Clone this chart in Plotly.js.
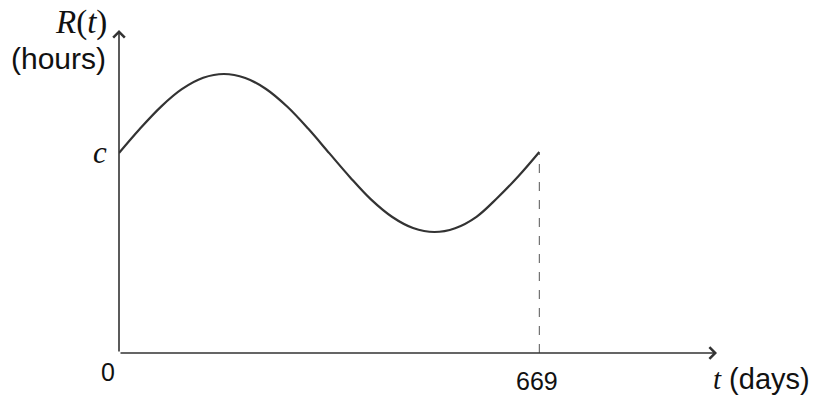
<!DOCTYPE html>
<html>
<head>
<meta charset="utf-8">
<script src="https://cdn.plot.ly/plotly-3.0.1.min.js"></script>
<style>html,body{margin:0;padding:0;background:#fff;}#chart{width:817px;height:395px;}</style>
</head>
<body>
<div id="chart"></div>
<script>
// Values (t in days, R in arbitrary hour units, c = 10)
const tDays = [0, 33, 67, 100, 134, 167, 201, 234, 268, 301, 335, 368, 401, 435, 468, 502, 535, 569, 602, 636, 669];
const rHours = [10, 11.2, 12.32, 13.19, 13.76, 13.95, 13.75, 13.2, 12.31, 11.22, 9.98, 8.78, 7.68, 6.8, 6.25, 6.05, 6.24, 6.81, 7.75, 8.85, 10.05];
const cValue = 10;
const tEnd = 669;
const xTickLabels = ["0", "669"];
const yTickLabel = "c";

const xMax = 951.8;
const yMax = 16.15;
const ink = "#333333";
const sans = "Liberation Sans, Arial, sans-serif";
const serif = "Liberation Serif, Times New Roman, serif";

const trace = {
  x: tDays, y: rHours, type: "scatter", mode: "lines",
  line: {color: ink, width: 2.2, shape: "spline", smoothing: 1},
  hoverinfo: "skip"
};

const layout = {
  width: 817, height: 395,
  margin: {l: 119, r: 100, t: 30, b: 42},
  paper_bgcolor: "#fff", plot_bgcolor: "#fff",
  showlegend: false,
  xaxis: {range: [0, xMax], visible: false, fixedrange: true},
  yaxis: {range: [0, yMax], visible: false, fixedrange: true},
  shapes: [
    {type: "line", xref: "x", yref: "y", x0: tEnd, x1: tEnd, y0: 0, y1: cValue,
     line: {color: "#555", width: 1, dash: "dash"}}
  ],
  annotations: [
    // axes with arrows
    {xref: "x", yref: "y", axref: "x", ayref: "y", x: xMax, y: 0, ax: 0, ay: 0,
     showarrow: true, arrowhead: 4, arrowsize: 1.4, arrowwidth: 1.6, arrowcolor: ink, text: ""},
    {xref: "x", yref: "y", axref: "x", ayref: "y", x: 0, y: yMax, ax: 0, ay: 0,
     showarrow: true, arrowhead: 4, arrowsize: 1.4, arrowwidth: 1.6, arrowcolor: ink, text: ""},
    // labels
    {xref: "x", yref: "y", x: 0, y: cValue, xanchor: "right", yanchor: "middle", xshift: -10, yshift: 1,
     text: "<i>" + yTickLabel + "</i>", showarrow: false, font: {family: serif, size: 31, color: "#111"}},
    {xref: "x", yref: "y", x: 0, y: 0, xanchor: "center", yanchor: "top", xshift: -11, yshift: -3,
     text: xTickLabels[0], showarrow: false, font: {family: sans, size: 25, color: "#111"}},
    {xref: "x", yref: "y", x: tEnd, y: 0, xanchor: "center", yanchor: "top", xshift: -2, yshift: -12,
     text: xTickLabels[1], showarrow: false, font: {family: sans, size: 25, color: "#111"}},
    {xref: "x", yref: "y", x: xMax, y: 0, xanchor: "left", yanchor: "top", xshift: -6, yshift: -8,
     text: "<i style='font-family:Liberation Serif'>t</i> (days)", showarrow: false, font: {family: sans, size: 29, color: "#111"}},
    {xref: "x", yref: "y", x: 0, y: yMax, xanchor: "right", yanchor: "bottom", xshift: -10, yshift: -13,
     text: "<i>R</i>(<i>t</i>)", showarrow: false, font: {family: serif, size: 33, color: "#111"}},
    {xref: "x", yref: "y", x: 0, y: yMax, xanchor: "right", yanchor: "top", xshift: -11, yshift: -10,
     text: "(hours)", showarrow: false, font: {family: sans, size: 30, color: "#111"}}
  ]
};

Plotly.newPlot("chart", [trace], layout, {staticPlot: true, displayModeBar: false});
</script>
</body>
</html>
